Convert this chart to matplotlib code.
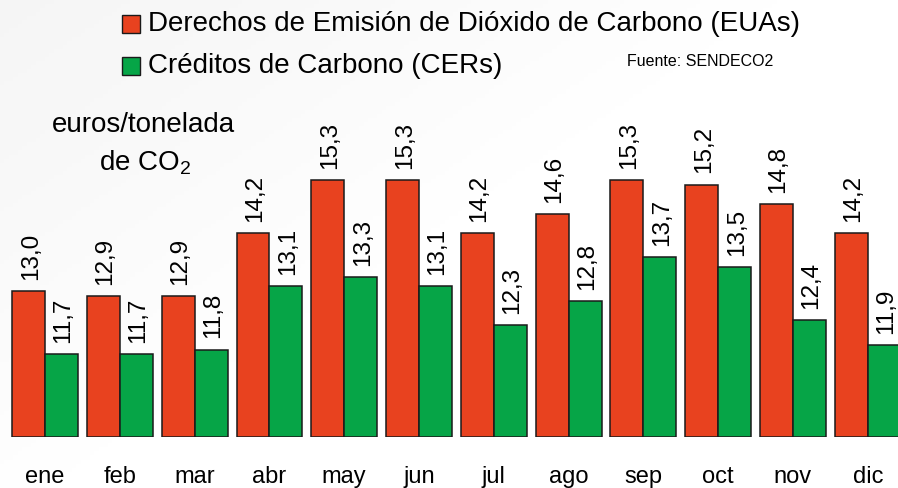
import numpy as np
import matplotlib
matplotlib.use("Agg")
import matplotlib.pyplot as plt
from matplotlib.patches import Rectangle

plt.rcParams['font.family'] = ['Liberation Sans', 'DejaVu Sans']
plt.rcParams['mathtext.fontset'] = 'custom'
plt.rcParams['mathtext.rm'] = 'Liberation Sans'

months = ["ene", "feb", "mar", "abr", "may", "jun",
          "jul", "ago", "sep", "oct", "nov", "dic"]
euas = [13.0, 12.9, 12.9, 14.2, 15.3, 15.3, 14.2, 14.6, 15.3, 15.2, 14.8, 14.2]
cers = [11.7, 11.7, 11.8, 13.1, 13.3, 13.1, 12.3, 12.8, 13.7, 13.5, 12.4, 11.9]

red = "#E8421F"
green = "#06A547"

fig = plt.figure(figsize=(8.98, 4.88), dpi=100)
fig.patch.set_facecolor("#f9f9f9")

# soft grey wash in the upper-left corner
bg = fig.add_axes([0, 0, 1, 1], zorder=-10)
gx, gy = np.meshgrid(np.linspace(0, 1, 200), np.linspace(0, 1, 120))
wash = np.clip(1.0 - (gx * 1.1 + (1 - gy) * 0.9), 0, 1)
bg.imshow(wash, cmap="Greys", vmin=0, vmax=12, extent=[0, 1, 0, 1],
          aspect="auto", origin="lower")
bg.set_axis_off()

ax = fig.add_axes([0, 51 / 488, 1, 437 / 488])
ax.patch.set_alpha(0)

x = np.arange(len(months))
w = 0.44
base = 10
b1 = ax.bar(x - w / 2, np.array(euas) - base, w, bottom=base, color=red,
            edgecolor="#1a1a1a", linewidth=1.1)
b2 = ax.bar(x + w / 2, np.array(cers) - base, w, bottom=base, color=green,
            edgecolor="#1a1a1a", linewidth=1.1)

for bars, vals in ((b1, euas), (b2, cers)):
    for r, v in zip(bars, vals):
        ax.annotate(f"{v:.1f}".replace(".", ","),
                    (r.get_x() + r.get_width() / 2, v),
                    xytext=(1.5, 8), textcoords="offset points",
                    rotation=90, ha="center", va="bottom", fontsize=17.5)

ax.set_xlim(-0.602, 11.404)
ax.set_ylim(base, 19)
ax.set_xticks(x)
ax.set_xticklabels(months, fontsize=17)
ax.tick_params(axis="x", length=0, pad=21)
ax.set_yticks([])
for s in ax.spines.values():
    s.set_visible(False)

# legend drawn by hand in figure pixels
def legend_entry(y, color, label):
    fig.patches.append(Rectangle((122 / 898, 1 - (y + 9) / 488), 18 / 898, 18 / 488,
                                 transform=fig.transFigure, facecolor=color,
                                 edgecolor="#1a1a1a", linewidth=1.0))
    fig.text(148 / 898, 1 - y / 488, label, fontsize=20, va="center", ha="left")

legend_entry(24, red, "Derechos de Emisión de Dióxido de Carbono (EUAs)")
legend_entry(66, green, "Créditos de Carbono (CERs)")

fig.text(627 / 898, 1 - 62 / 488, "Fuente: SENDECO2", fontsize=11.5,
         va="center", ha="left")
fig.text(143 / 898, 1 - 125 / 488, "euros/tonelada", fontsize=20,
         va="center", ha="center")
fig.text(145 / 898, 1 - 163 / 488, "de CO$_\\mathrm{2}$", fontsize=20,
         va="center", ha="center")

fig.savefig("out.png", dpi=100, facecolor=fig.get_facecolor())
